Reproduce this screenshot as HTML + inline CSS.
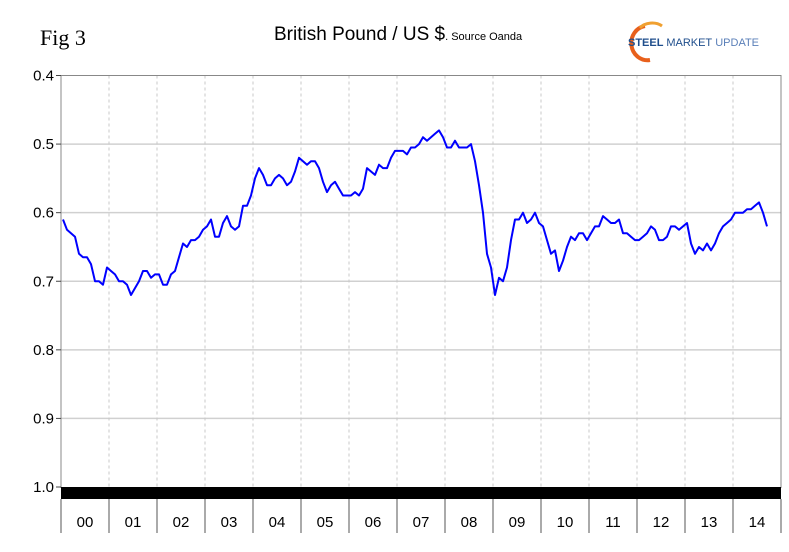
<!DOCTYPE html>
<html><head><meta charset="utf-8"><style>
body{margin:0;background:#fff;}
svg text{font-family:"Liberation Sans",Arial,sans-serif;}
</style></head><body>
<svg width="789" height="547" viewBox="0 0 789 547">
<text x="40" y="45" font-family="Liberation Serif" style="font-family:'Liberation Serif',serif" font-size="22">Fig 3</text>
<text x="274" y="40" font-size="19">British Pound / US $<tspan font-size="11">. Source Oanda</tspan></text>
<g>
<path d="M645 26 A16 17 0 0 0 650 60" fill="none" stroke="#e8601c" stroke-width="4"/>
<path d="M640 28 A14 10 0 0 1 662 26" fill="none" stroke="#f0a030" stroke-width="3"/>
<text x="628" y="46" font-size="11" font-weight="bold" fill="#1f4e8c">STEEL <tspan font-weight="normal">MARKET</tspan> <tspan font-weight="normal" fill="#5a7fb8">UPDATE</tspan></text>
</g>
<g id="grid"></g>
<rect x="61" y="75.5" width="720" height="412" fill="none" stroke="#888"/>
<g id="yaxis"></g>
<rect x="61" y="487" width="720" height="12" fill="#000"/>
<g id="xaxis"></g>
<path id="line" fill="none" stroke="#0000ff" stroke-width="2" stroke-linejoin="round"/>
</svg>
<script>
const yTicks=[0.4,0.5,0.6,0.7,0.8,0.9,1.0];
const years=["00","01","02","03","04","05","06","07","08","09","10","11","12","13","14"];
const values=[
0.61,0.625,0.63,0.635,0.66,0.665,0.665,0.675,0.70,0.70,0.705,0.68,
0.685,0.69,0.70,0.70,0.705,0.72,0.71,0.70,0.685,0.685,0.695,0.69,
0.69,0.705,0.705,0.69,0.685,0.665,0.645,0.65,0.64,0.64,0.635,0.625,
0.62,0.61,0.635,0.635,0.615,0.605,0.62,0.625,0.62,0.59,0.59,0.575,
0.55,0.535,0.545,0.56,0.56,0.55,0.545,0.55,0.56,0.555,0.54,0.52,
0.525,0.53,0.525,0.525,0.535,0.555,0.57,0.56,0.555,0.565,0.575,0.575,
0.575,0.57,0.575,0.565,0.535,0.54,0.545,0.53,0.535,0.535,0.52,0.51,
0.51,0.51,0.515,0.505,0.505,0.50,0.49,0.495,0.49,0.485,0.48,0.49,
0.505,0.505,0.495,0.505,0.505,0.505,0.50,0.525,0.56,0.60,0.66,0.68,
0.72,0.695,0.70,0.68,0.64,0.61,0.61,0.60,0.615,0.61,0.60,0.615,
0.62,0.64,0.66,0.655,0.685,0.67,0.65,0.635,0.64,0.63,0.63,0.64,
0.63,0.62,0.62,0.605,0.61,0.615,0.615,0.61,0.63,0.63,0.635,0.64,
0.64,0.635,0.63,0.62,0.625,0.64,0.64,0.635,0.62,0.62,0.625,0.62,
0.615,0.645,0.66,0.65,0.655,0.645,0.655,0.645,0.63,0.62,0.615,0.61,
0.60,0.60,0.60,0.595,0.595,0.59,0.585,0.60,0.62];
const X0=61,X1=781,Y0=75.5,Y1=487;
const yS=v=>Y0+(v-0.4)/0.6*(Y1-Y0);
const xS=m=>X0+m/12*((X1-X0)/years.length);
const NS="http://www.w3.org/2000/svg";
const grid=document.getElementById('grid'),ya=document.getElementById('yaxis'),xa=document.getElementById('xaxis');
function mk(tag,at,parent){const e=document.createElementNS(NS,tag);for(const k in at)e.setAttribute(k,at[k]);parent.appendChild(e);return e;}
yTicks.forEach(t=>{
 const y=yS(t);
 if(t>0.4&&t<1.0){const g=mk('line',{x1:X0,x2:X1,y1:y,y2:y,stroke:'#d0d0d0','stroke-width':1.5},grid);
 
 }
 mk('line',{x1:X0-5,x2:X0,y1:y,y2:y,stroke:'#444'},ya);
 const tx=mk('text',{x:X0-7,y:y+5,'font-size':15,'text-anchor':'end',fill:'#000'},ya);
 tx.textContent=t.toFixed(1);
 
 
});
const cw=(X1-X0)/years.length;
years.forEach((yr,i)=>{
 const x=X0+i*cw;
 if(i>0){const g=mk('line',{x1:x,x2:x,y1:Y0,y2:Y1,stroke:'#c8c8c8','stroke-dasharray':'3,3'},grid);
 
 }
 mk('line',{x1:x,x2:x,y1:499,y2:533,stroke:'#555'},xa);
 const tx=mk('text',{x:x+cw/2,y:527,'font-size':15,'text-anchor':'middle'},xa);
 tx.textContent=yr;
 
 
});
mk('line',{x1:X1,x2:X1,y1:499,y2:533,stroke:'#555'},xa);
document.getElementById('line').setAttribute('d',values.map((v,i)=>(i?'L':'M')+xS(i+0.5).toFixed(1)+' '+yS(v).toFixed(1)).join(' '));
</script>
</body></html>
